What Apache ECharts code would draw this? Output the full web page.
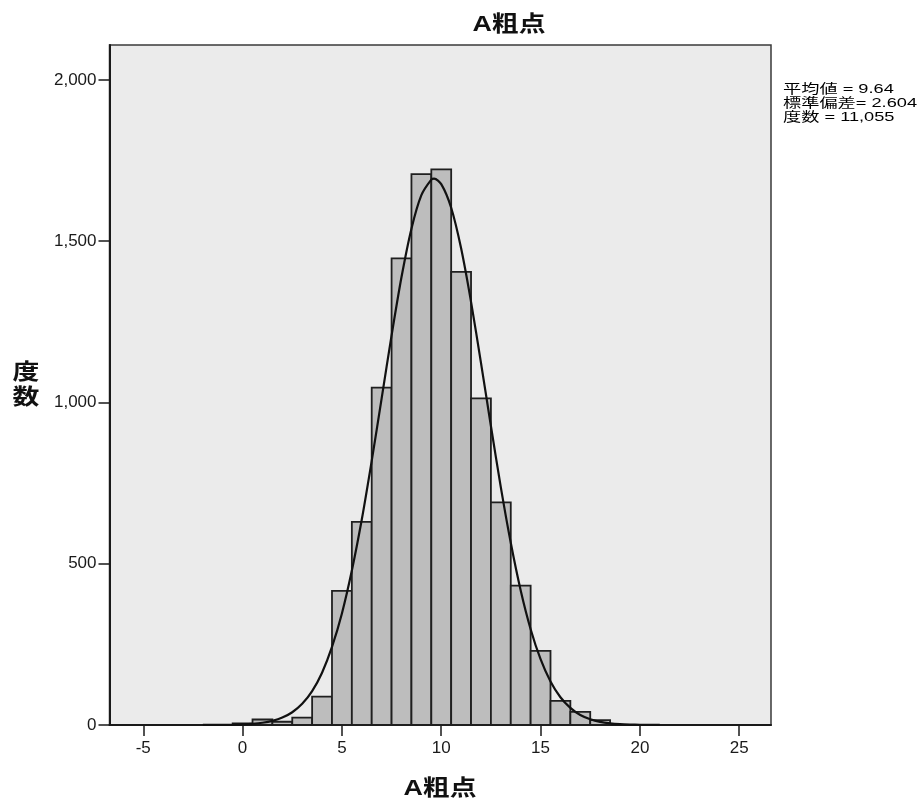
<!DOCTYPE html>
<html>
<head>
<meta charset="utf-8">
<script src="https://cdn.jsdelivr.net/npm/echarts@6/dist/echarts.min.js"></script>
<style>
  html, body { margin: 0; background: #fff; }
  #chart { width: 922px; height: 803px; }
</style>
</head>
<body>
<div id="chart"></div>
<script>
// histogram bins (integer scores) and counts
const BIN_CENTERS = [0, 1, 2, 3, 4, 5, 6, 7, 8, 9, 10, 11, 12, 13, 14, 15, 16, 17, 18];
const COUNTS = [5, 17, 10, 23, 88, 416, 630, 1046, 1447, 1708, 1723, 1405, 1013, 690, 432, 230, 75, 41, 15];

// normal curve points
const CURVE_X = [-2, -1.5, -1, -0.5, 0, 0.5, 1, 1.5, 2, 2.5, 3, 3.5, 4, 4.5, 5, 5.5, 6, 6.5, 7, 7.5, 8, 8.5, 9, 9.5, 9.64,
  10, 10.5, 11, 11.5, 12, 12.5, 13, 13.5, 14, 14.5, 15, 15.5, 16, 16.5, 17, 17.5, 18, 18.5, 19, 19.5, 20, 20.5, 21];
const CURVE_Y = [0.1, 0.2, 0.4, 0.9, 1.8, 3.6, 6.9, 12.8, 22.9, 39.5, 65.6, 105, 162, 242, 346, 479, 637, 819, 1013, 1208, 1389, 1539, 1643, 1691, 1694,
  1677, 1604, 1478, 1312, 1123, 927, 737, 565, 417, 297, 204, 135, 86, 53, 31, 18, 9.8, 5.2, 2.6, 1.3, 0.6, 0.3, 0.1];

const X_TICKS = [-5, 0, 5, 10, 15, 20, 25];
const Y_TICKS = [0, 500, 1000, 1500, 2000];

const TITLE = "A粗点";
const X_NAME = "A粗点";
const Y_NAME = "度\n数";
const STATS = ["平均値 = 9.64", "標準偏差= 2.604", "度数 = 11,055"];

const LATIN = "'Liberation Sans', Arial, sans-serif";
const CJK = "'Liberation Sans', 'Noto Sans CJK JP', sans-serif";

const chart = echarts.init(document.getElementById("chart"));

// the source picture is a bit wider than tall, so text is stretched sideways
const boldText = (text, x, y, extra) => ({
  type: "text", x: x, y: y, scaleX: 1.22,
  style: Object.assign({ text: text, fontSize: 22, fontWeight: "bold", fill: "#111", fontFamily: CJK,
    textAlign: "center", textVerticalAlign: "middle" }, extra || {})
});

chart.setOption({
  backgroundColor: "#ffffff",
  animation: false,
  grid: {
    left: 109.5, top: 45, right: 151, bottom: 78,
    show: true,
    backgroundColor: "#ebebeb",
    borderColor: "#3a3a3a",
    borderWidth: 1.5,
    outerBoundsMode: "none"
  },
  xAxis: {
    type: "value",
    min: -6.7,
    max: 26.6,
    splitLine: { show: false },
    axisLine: { onZero: false, lineStyle: { color: "#1a1a1a", width: 2 } },
    axisTick: { show: true, length: 11, customValues: X_TICKS, lineStyle: { color: "#1a1a1a", width: 1.5 } },
    axisLabel: { customValues: X_TICKS, margin: 15, fontSize: 17, color: "#1a1a1a", fontFamily: LATIN }
  },
  yAxis: {
    type: "value",
    min: 0,
    max: 2108.5,
    splitLine: { show: false },
    axisLine: { show: true, onZero: false, lineStyle: { color: "#1a1a1a", width: 2 } },
    axisTick: { show: true, length: 11, customValues: Y_TICKS, lineStyle: { color: "#1a1a1a", width: 1.5 } },
    axisLabel: {
      customValues: Y_TICKS, margin: 13, fontSize: 17, color: "#1a1a1a", fontFamily: LATIN,
      formatter: (v) => Number(v).toLocaleString("en-US")
    }
  },
  graphic: [
    boldText(TITLE, 509, 25),
    boldText(X_NAME, 440, 789),
    boldText(Y_NAME, 26, 385, { lineHeight: 25 }),
    {
      type: "text", x: 783, y: 82, scaleX: 1.4,
      style: { text: STATS.join("\n"), fontSize: 13, fill: "#000", fontFamily: CJK, lineHeight: 14.3 }
    }
  ],
  series: [
    {
      type: "custom",
      z: 2,
      data: BIN_CENTERS.map((c, i) => [c, COUNTS[i]]),
      encode: { x: 0, y: 1 },
      renderItem: (params, api) => {
        const c = api.value(0);
        const v = api.value(1);
        const p0 = api.coord([c - 0.5, v]);
        const p1 = api.coord([c + 0.5, 0]);
        return {
          type: "rect",
          shape: { x: p0[0], y: p0[1], width: p1[0] - p0[0], height: p1[1] - p0[1] },
          style: { fill: "#bdbdbd", stroke: "#1f1f1f", lineWidth: 1.8 }
        };
      }
    },
    {
      type: "line",
      z: 3,
      data: CURVE_X.map((x, i) => [x, CURVE_Y[i]]),
      smooth: 0.3,
      showSymbol: false,
      lineStyle: { color: "#111", width: 2.2 }
    }
  ]
});
</script>
</body>
</html>
